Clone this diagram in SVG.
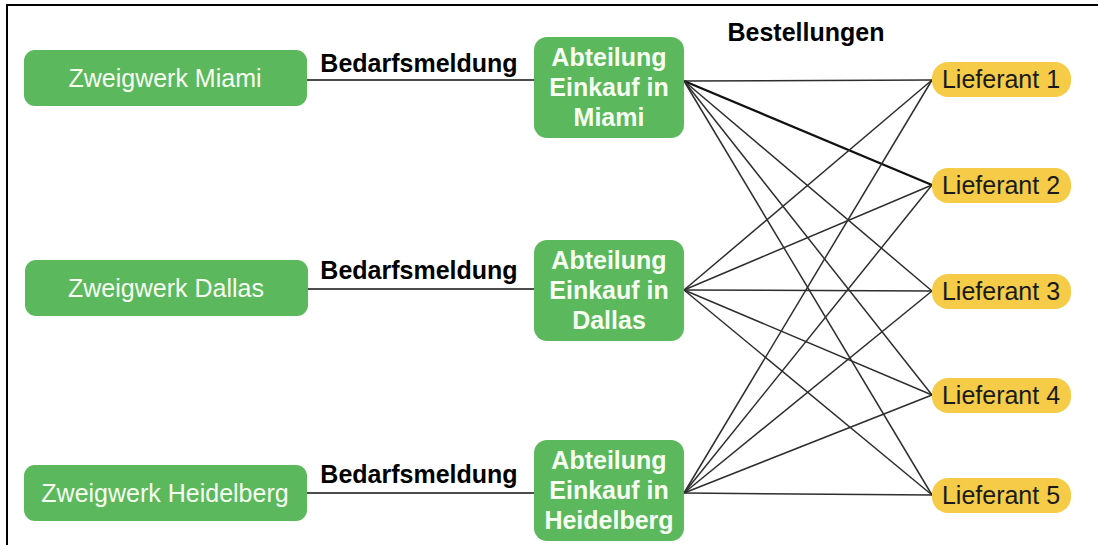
<svg xmlns="http://www.w3.org/2000/svg" width="1098" height="545" viewBox="0 0 1098 545">
  <style>
    .plant rect { fill: #5cb85c; }
    .dept rect { fill: #5cb85c; }
    .supplier rect { fill: #f5cb48; }
    .wt { font-family: "Liberation Sans", Arial, sans-serif; font-size: 25px; fill: #f6fff2; text-anchor: middle; }
    .wb { font-family: "Liberation Sans", Arial, sans-serif; font-size: 25px; font-weight: bold; fill: #f6fff2; text-anchor: middle; }
    .lbl { font-family: "Liberation Sans", Arial, sans-serif; font-size: 25px; font-weight: bold; fill: #000; text-anchor: middle; }
    .st { font-family: "Liberation Sans", Arial, sans-serif; font-size: 25px; fill: #1a1a1a; text-anchor: middle; }
    .req { stroke: #111; stroke-width: 1.5; fill: none; }
    .ord { stroke: #2e2e2e; stroke-width: 1.5; fill: none; }
    .ord.heavy { stroke: #111; stroke-width: 2.2; }
  </style>

  <rect width="1098" height="545" fill="#ffffff"/>
  <!-- frame -->
  <path d="M7,545 V5 H1098" fill="none" stroke="#000" stroke-width="2"/>

  <!-- connectors -->
  <g id="connectors">
    <line class="req" x1="307" y1="80" x2="534" y2="80"/>
    <line class="req" x1="307" y1="289" x2="534" y2="289"/>
    <line class="req" x1="307" y1="493" x2="534" y2="493"/>

    <line class="ord" x1="684" y1="81" x2="932" y2="80"/>
    <line class="ord heavy" x1="684" y1="81" x2="932" y2="185"/>
    <line class="ord" x1="684" y1="81" x2="932" y2="291"/>
    <line class="ord" x1="684" y1="81" x2="932" y2="395"/>
    <line class="ord" x1="684" y1="81" x2="932" y2="495"/>

    <line class="ord" x1="684" y1="290" x2="932" y2="80"/>
    <line class="ord" x1="684" y1="290" x2="932" y2="185"/>
    <line class="ord" x1="684" y1="290" x2="932" y2="291"/>
    <line class="ord" x1="684" y1="290" x2="932" y2="395"/>
    <line class="ord" x1="684" y1="290" x2="932" y2="495"/>

    <line class="ord" x1="684" y1="493" x2="932" y2="80"/>
    <line class="ord" x1="684" y1="493" x2="932" y2="185"/>
    <line class="ord" x1="684" y1="493" x2="932" y2="291"/>
    <line class="ord" x1="684" y1="493" x2="932" y2="395"/>
    <line class="ord" x1="684" y1="493" x2="932" y2="495"/>
  </g>

  <!-- connector labels -->
  <text class="lbl" x="419" y="72">Bedarfsmeldung</text>
  <text class="lbl" x="419" y="279">Bedarfsmeldung</text>
  <text class="lbl" x="419" y="483">Bedarfsmeldung</text>
  <text class="lbl" x="806" y="41">Bestellungen</text>

  <!-- plants -->
  <g id="plant-miami" class="plant">
    <rect x="24" y="50" width="283" height="56" rx="11"/>
    <text class="wt" x="165" y="87">Zweigwerk Miami</text>
  </g>
  <g id="plant-dallas" class="plant">
    <rect x="25" y="260" width="283" height="56" rx="11"/>
    <text class="wt" x="166" y="297">Zweigwerk Dallas</text>
  </g>
  <g id="plant-heidelberg" class="plant">
    <rect x="24" y="465" width="283" height="56" rx="11"/>
    <text class="wt" x="165" y="502">Zweigwerk Heidelberg</text>
  </g>

  <!-- purchasing departments -->
  <g id="dept-miami" class="dept">
    <rect x="534" y="37" width="150" height="101" rx="13"/>
    <text class="wb" x="609" y="66">Abteilung</text>
    <text class="wb" x="609" y="96">Einkauf in</text>
    <text class="wb" x="609" y="126">Miami</text>
  </g>
  <g id="dept-dallas" class="dept">
    <rect x="534" y="240" width="150" height="101" rx="13"/>
    <text class="wb" x="609" y="269">Abteilung</text>
    <text class="wb" x="609" y="299">Einkauf in</text>
    <text class="wb" x="609" y="329">Dallas</text>
  </g>
  <g id="dept-heidelberg" class="dept">
    <rect x="534" y="440" width="150" height="101" rx="13"/>
    <text class="wb" x="609" y="469">Abteilung</text>
    <text class="wb" x="609" y="499">Einkauf in</text>
    <text class="wb" x="609" y="529">Heidelberg</text>
  </g>

  <!-- suppliers -->
  <g id="supplier-1" class="supplier">
    <rect x="932" y="62" width="139" height="35" rx="16"/>
    <text class="st" x="1001" y="88">Lieferant 1</text>
  </g>
  <g id="supplier-2" class="supplier">
    <rect x="932" y="168" width="139" height="35" rx="16"/>
    <text class="st" x="1001" y="194">Lieferant 2</text>
  </g>
  <g id="supplier-3" class="supplier">
    <rect x="932" y="274" width="139" height="35" rx="16"/>
    <text class="st" x="1001" y="300">Lieferant 3</text>
  </g>
  <g id="supplier-4" class="supplier">
    <rect x="932" y="378" width="139" height="35" rx="16"/>
    <text class="st" x="1001" y="404">Lieferant 4</text>
  </g>
  <g id="supplier-5" class="supplier">
    <rect x="932" y="478" width="139" height="35" rx="16"/>
    <text class="st" x="1001" y="504">Lieferant 5</text>
  </g>
</svg>
